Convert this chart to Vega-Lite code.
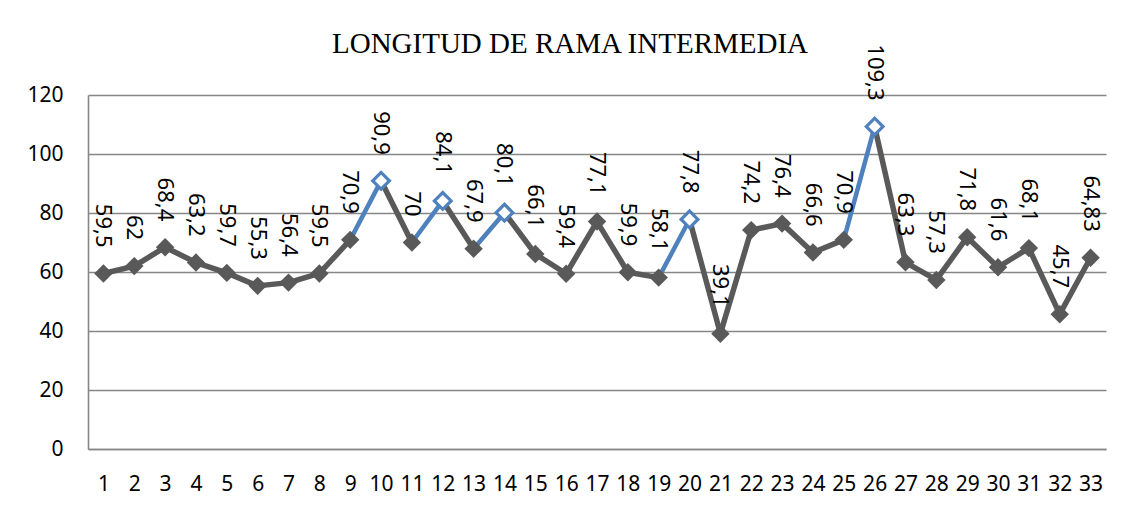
{
  "$schema": "https://vega.github.io/schema/vega-lite/v6.json",
  "width": 1018,
  "height": 354,
  "autosize": {"type": "none"},
  "padding": {"left": 88, "top": 95, "right": 28, "bottom": 63},
  "background": "white",
  "title": {
    "text": "LONGITUD DE RAMA INTERMEDIA",
    "font": "Liberation Serif",
    "fontSize": 29,
    "fontWeight": "normal",
    "color": "black",
    "anchor": "middle",
    "dx": -27,
    "dy": 25,
    "offset": 10
  },
  "config": {
    "view": {"stroke": null},
    "axis": {
      "labelFont": "Noto Sans",
      "labelFontSize": 21,
      "labelColor": "black",
      "ticks": false,
      "domainColor": "#868686",
      "domainWidth": 1.6,
      "gridColor": "#868686",
      "gridWidth": 1.6,
      "title": null,
      "labelOverlap": false,
      "labelFlush": false
    }
  },
  "data": {
    "values": [
      {"i": 1, "v": 59.5, "lbl": "59,5", "hl": false},
      {"i": 2, "v": 62, "lbl": "62", "hl": false},
      {"i": 3, "v": 68.4, "lbl": "68,4", "hl": false},
      {"i": 4, "v": 63.2, "lbl": "63,2", "hl": false},
      {"i": 5, "v": 59.7, "lbl": "59,7", "hl": false},
      {"i": 6, "v": 55.3, "lbl": "55,3", "hl": false},
      {"i": 7, "v": 56.4, "lbl": "56,4", "hl": false},
      {"i": 8, "v": 59.5, "lbl": "59,5", "hl": false},
      {"i": 9, "v": 70.9, "lbl": "70,9", "hl": false},
      {"i": 10, "v": 90.9, "lbl": "90,9", "hl": true},
      {"i": 11, "v": 70, "lbl": "70", "hl": false},
      {"i": 12, "v": 84.1, "lbl": "84,1", "hl": true},
      {"i": 13, "v": 67.9, "lbl": "67,9", "hl": false},
      {"i": 14, "v": 80.1, "lbl": "80,1", "hl": true},
      {"i": 15, "v": 66.1, "lbl": "66,1", "hl": false},
      {"i": 16, "v": 59.4, "lbl": "59,4", "hl": false},
      {"i": 17, "v": 77.1, "lbl": "77,1", "hl": false},
      {"i": 18, "v": 59.9, "lbl": "59,9", "hl": false},
      {"i": 19, "v": 58.1, "lbl": "58,1", "hl": false},
      {"i": 20, "v": 77.8, "lbl": "77,8", "hl": true},
      {"i": 21, "v": 39.1, "lbl": "39,1", "hl": false},
      {"i": 22, "v": 74.2, "lbl": "74,2", "hl": false},
      {"i": 23, "v": 76.4, "lbl": "76,4", "hl": false},
      {"i": 24, "v": 66.6, "lbl": "66,6", "hl": false},
      {"i": 25, "v": 70.9, "lbl": "70,9", "hl": false},
      {"i": 26, "v": 109.3, "lbl": "109,3", "hl": true},
      {"i": 27, "v": 63.3, "lbl": "63,3", "hl": false},
      {"i": 28, "v": 57.3, "lbl": "57,3", "hl": false},
      {"i": 29, "v": 71.8, "lbl": "71,8", "hl": false},
      {"i": 30, "v": 61.6, "lbl": "61,6", "hl": false},
      {"i": 31, "v": 68.1, "lbl": "68,1", "hl": false},
      {"i": 32, "v": 45.7, "lbl": "45,7", "hl": false},
      {"i": 33, "v": 64.83, "lbl": "64,83", "hl": false}
    ]
  },
  "transform": [
    {
      "window": [
        {"op": "lag", "field": "v", "as": "pv"},
        {"op": "lag", "field": "i", "as": "pi"}
      ],
      "sort": [{"field": "i", "order": "ascending"}]
    }
  ],
  "encoding": {
    "x": {
      "field": "i",
      "type": "quantitative",
      "scale": {"domain": [0.5, 33.5], "nice": false, "zero": false},
      "axis": {
        "values": [1,2,3,4,5,6,7,8,9,10,11,12,13,14,15,16,17,18,19,20,21,22,23,24,25,26,27,28,29,30,31,32,33],
        "format": "d",
        "grid": false,
        "labelPadding": 24
      }
    },
    "y": {
      "field": "v",
      "type": "quantitative",
      "scale": {"domain": [0, 120], "nice": false},
      "axis": {
        "values": [0, 20, 40, 60, 80, 100, 120],
        "grid": true,
        "labelPadding": 25
      }
    }
  },
  "layer": [
    {
      "transform": [{"filter": "datum.pi != null && !datum.hl"}],
      "mark": {"type": "rule", "color": "#595959", "strokeWidth": 5.5, "strokeCap": "round"},
      "encoding": {
        "x": {"field": "pi", "type": "quantitative"},
        "x2": {"field": "i"},
        "y": {"field": "pv", "type": "quantitative"},
        "y2": {"field": "v"}
      }
    },
    {
      "transform": [{"filter": "datum.pi != null && datum.hl"}],
      "mark": {"type": "rule", "color": "#4F81BD", "strokeWidth": 4.5, "strokeCap": "round"},
      "encoding": {
        "x": {"field": "pi", "type": "quantitative"},
        "x2": {"field": "i"},
        "y": {"field": "pv", "type": "quantitative"},
        "y2": {"field": "v"}
      }
    },
    {
      "transform": [{"filter": "!datum.hl"}],
      "mark": {"type": "point", "shape": "diamond", "filled": true, "color": "#595959", "opacity": 1, "size": 340}
    },
    {
      "transform": [{"filter": "datum.hl"}],
      "mark": {"type": "point", "shape": "diamond", "filled": true, "fill": "white", "stroke": "#4F81BD", "strokeWidth": 3.2, "opacity": 1, "size": 280}
    },
    {
      "mark": {
        "type": "text",
        "angle": 90,
        "align": "right",
        "baseline": "middle",
        "dx": -26,
        "font": "Noto Sans",
        "fontSize": 22,
        "color": "black"
      },
      "encoding": {"text": {"field": "lbl"}}
    }
  ]
}
